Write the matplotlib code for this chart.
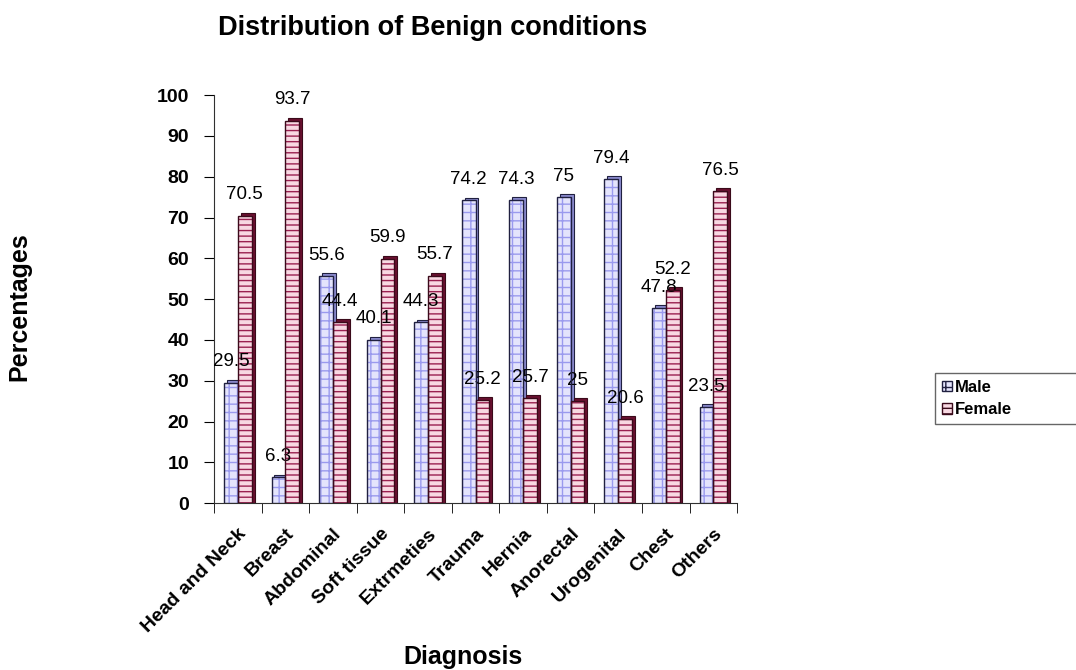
import matplotlib.pyplot as plt
import numpy as np
from matplotlib.patches import Patch

# ============================================================
# DADOS
# ============================================================
categorias = ['Head and Neck', 'Breast', 'Abdominal', 'Soft tissue', 'Extrmeties',
              'Trauma', 'Hernia', 'Anorectal', 'Urogenital', 'Chest', 'Others']
male = [29.5, 6.3, 55.6, 40.1, 44.3, 74.2, 74.3, 75, 79.4, 47.8, 23.5]
female = [70.5, 93.7, 44.4, 59.9, 55.7, 25.2, 25.7, 25, 20.6, 52.2, 76.5]
yticks = [0, 10, 20, 30, 40, 50, 60, 70, 80, 90, 100]

# ============================================================
# ESTILO
# ============================================================
plt.rcParams['font.family'] = ['Liberation Sans', 'DejaVu Sans']
plt.rcParams['hatch.linewidth'] = 1.0

COR_M, HATCH_M, BORDA_M = '#e4e4fc', '#9a9aee', '#202040'
COR_F, HATCH_F, BORDA_F = '#f8d8e2', '#9a2050', '#3a0a1a'

fig = plt.figure(figsize=(10.76, 6.70), dpi=100)
ax = fig.add_axes([0.199, 0.249, 0.486, 0.609])

x = np.arange(len(categorias))
w = 0.29
dx, dy = 0.06, 0.7  # profundidade "3D"


def barras(pos, vals, cor, hatch, cor_hatch, borda, sombra):
    # lateral/topo escuros, atras da barra
    ax.bar(pos + dx, np.array(vals) + dy, w, color=sombra, edgecolor=borda,
           linewidth=0.8, zorder=2)
    ax.bar(pos, vals, w, color=cor, edgecolor=cor_hatch, hatch=hatch,
           linewidth=0, zorder=3)
    ax.bar(pos, vals, w, fill=False, edgecolor=borda, linewidth=1.0, zorder=4)


barras(x - w / 2, male, COR_M, '++', HATCH_M, BORDA_M, '#8c8cd0')
barras(x + w / 2, female, COR_F, '---', HATCH_F, BORDA_F, '#6a1030')

for i in range(len(categorias)):
    ax.annotate(f'{male[i]:g}', (x[i] - w / 2, male[i]), xytext=(0, 9),
                textcoords='offset points', ha='center', va='bottom', fontsize=13.5)
    ax.annotate(f'{female[i]:g}', (x[i] + w / 2, female[i]), xytext=(0, 9),
                textcoords='offset points', ha='center', va='bottom', fontsize=13.5)

ax.set_xlim(-0.5, len(categorias) - 0.5)
ax.set_ylim(0, 100)
ax.set_yticks(yticks)
ax.set_yticklabels([str(t) for t in yticks], fontsize=14, fontweight='bold')
ax.set_xticks(x)
ax.set_xticklabels(categorias, rotation=45, ha='right', rotation_mode='anchor',
                   fontsize=14, fontweight='bold')
ax.tick_params(axis='x', which='major', length=0, pad=16)
ax.set_xticks(np.arange(len(categorias) + 1) - 0.5, minor=True)
ax.tick_params(axis='x', which='minor', length=7, direction='out')
ax.tick_params(axis='y', length=7, direction='out', pad=11)

for s in ['top', 'right']:
    ax.spines[s].set_visible(False)
ax.spines['left'].set_color('#303030')
ax.spines['bottom'].set_color('#303030')
ax.set_facecolor('white')

fig.text(0.402, 0.958, 'Distribution of Benign conditions', ha='center', va='center',
         fontsize=19.5, fontweight='bold')
fig.text(0.018, 0.543, 'Percentages', rotation=90, ha='center', va='center',
         fontsize=18, fontweight='bold')
fig.text(0.43, 0.02, 'Diagnosis', ha='center', va='center',
         fontsize=18, fontweight='bold')

handles = [Patch(facecolor=COR_M, edgecolor=BORDA_M, hatch='++', label='Male'),
           Patch(facecolor=COR_F, edgecolor=BORDA_F, hatch='---', label='Female')]
leg = fig.legend(handles=handles, loc='upper left',
                 bbox_to_anchor=(0.869, 0.378, 0.2, 0.065), mode='expand',
                 fontsize=12, frameon=True, fancybox=False, handlelength=0.6,
                 handleheight=0.6, handletextpad=0.2, borderpad=0.4,
                 labelspacing=0.45, borderaxespad=0)
leg.get_frame().set_edgecolor('#404040')
for t in leg.get_texts():
    t.set_fontweight('bold')

plt.savefig('out.png', dpi=100)
